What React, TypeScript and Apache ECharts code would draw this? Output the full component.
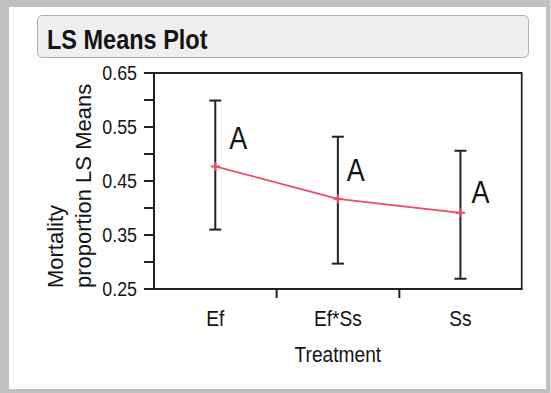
import React, { useEffect, useRef } from 'react';
import * as echarts from 'echarts';

// ---- data ----
const categories = ['Ef', 'Ef*Ss', 'Ss'];
const lsMeans = [0.477, 0.417, 0.391];
const lowerLimits = [0.36, 0.297, 0.269];
const upperLimits = [0.599, 0.532, 0.506];
const groupLetters = ['A', 'A', 'A'];
const yMin = 0.25;
const yMax = 0.65;
const yStep = 0.05;
const xBoundaryTicks = [1, 2];
const titleText = 'LS Means Plot';
const xName = 'Treatment';
const yNameLines = ['Mortality', 'proportion LS Means'];

// ---- layout / style ----
// The reference uses a narrow sans face; emulate it by drawing the chart wider
// and compressing it horizontally with CSS.
const PAGE_W = 551;
const PAGE_H = 393;
const SQUEEZE = 0.87;
const CHART_W = PAGE_W / SQUEEZE;
const X = (px: number) => px / SQUEEZE; // page px -> chart px (horizontal)

const SANS = '"Liberation Sans", Arial, sans-serif';
const INK = '#141414';
const AXIS = '#222222';
const MEAN_COLOR = '#f04868';
const letterOffsets = [
  [X(23), -28],
  [X(18), -28],
  [X(20), -21],
];

export default function App() {
  const ref = useRef<HTMLDivElement>(null);

  useEffect(() => {
    if (!ref.current) return;
    document.body.style.margin = '0';
    document.body.style.overflow = 'hidden';
    const chart = echarts.init(ref.current, undefined, { renderer: 'svg' });

    const errorData = categories.map((_, i) => [i, lowerLimits[i], upperLimits[i]]);
    const meanData = lsMeans.map((v, i) => ({
      value: v,
      label: {
        show: true,
        formatter: groupLetters[i],
        position: 'inside',
        offset: letterOffsets[i],
      },
    }));

    const vLine = 2 / SQUEEZE;

    const option: any = {
      animation: false,
      backgroundColor: '#c0c0c0',
      graphic: [
        {
          type: 'rect',
          z: -100,
          shape: { x: X(9), y: 7, width: X(537), height: 382 },
          style: { fill: '#ffffff' },
        },
        {
          type: 'rect',
          z: -90,
          shape: { x: X(37.5), y: 15.5, width: X(491), height: 42, r: 5 },
          style: { fill: '#efefef', stroke: '#a8a8a8', lineWidth: 1 },
        },
        {
          type: 'text',
          x: X(47),
          y: 39.5,
          style: {
            text: titleText,
            font: `bold 27px ${SANS}`,
            fill: INK,
            textAlign: 'left',
            textVerticalAlign: 'middle',
          },
        },
        {
          type: 'text',
          x: X(55.7),
          y: 288,
          rotation: Math.PI / 2,
          scaleY: 1 / SQUEEZE,
          style: {
            text: yNameLines[0],
            font: `22px ${SANS}`,
            fill: INK,
            textAlign: 'left',
            textVerticalAlign: 'middle',
          },
        },
        {
          type: 'text',
          x: X(83.1),
          y: 288,
          rotation: Math.PI / 2,
          scaleY: 1 / SQUEEZE,
          style: {
            text: yNameLines[1],
            font: `22px ${SANS}`,
            fill: INK,
            textAlign: 'left',
            textVerticalAlign: 'middle',
          },
        },
      ],
      grid: {
        left: X(154),
        right: X(29),
        top: 73,
        bottom: 104,
        show: true,
        borderColor: AXIS,
        borderWidth: 2,
        backgroundColor: 'transparent',
      },
      xAxis: [
        {
          type: 'category',
          data: categories,
          boundaryGap: true,
          axisLine: { lineStyle: { color: AXIS, width: 2 } },
          axisTick: { show: false },
          axisLabel: { color: INK, fontFamily: SANS, fontSize: 22, margin: 18 },
          name: xName,
          nameLocation: 'middle',
          nameGap: 54,
          nameTextStyle: { color: INK, fontFamily: SANS, fontSize: 22 },
          splitLine: { show: false },
        },
        {
          type: 'value',
          min: 0,
          max: 3,
          position: 'bottom',
          axisLine: { show: false },
          splitLine: { show: false },
          axisLabel: { show: false },
          axisTick: {
            show: true,
            customValues: xBoundaryTicks,
            length: 9,
            lineStyle: { color: AXIS, width: vLine },
          },
        },
      ],
      yAxis: {
        type: 'value',
        min: yMin,
        max: yMax,
        interval: yStep,
        axisLine: { show: true, lineStyle: { color: AXIS, width: vLine } },
        axisTick: { show: true, length: X(10), lineStyle: { color: AXIS, width: 2 } },
        splitLine: { show: false },
        axisLabel: {
          color: INK,
          fontFamily: SANS,
          fontSize: 20.5,
          margin: X(17),
          formatter: (v: number) => (Math.round(v * 100) % 10 === 5 ? v.toFixed(2) : ''),
        },
      },
      series: [
        {
          type: 'custom',
          xAxisIndex: 0,
          yAxisIndex: 0,
          data: errorData,
          renderItem: (params: any, api: any) => {
            const x = api.value(0);
            const lo = api.coord([x, api.value(1)]);
            const hi = api.coord([x, api.value(2)]);
            const half = X(6);
            const vStyle = { stroke: AXIS, lineWidth: vLine, fill: 'none' };
            const hStyle = { stroke: AXIS, lineWidth: 2, fill: 'none' };
            return {
              type: 'group',
              children: [
                { type: 'line', shape: { x1: lo[0], y1: lo[1], x2: hi[0], y2: hi[1] }, style: vStyle },
                { type: 'line', shape: { x1: hi[0] - half, y1: hi[1], x2: hi[0] + half, y2: hi[1] }, style: hStyle },
                { type: 'line', shape: { x1: lo[0] - half, y1: lo[1], x2: lo[0] + half, y2: lo[1] }, style: hStyle },
              ],
            };
          },
          z: 2,
        },
        {
          type: 'line',
          xAxisIndex: 0,
          yAxisIndex: 0,
          data: meanData,
          symbol: 'path://M3.1,0H4.9V3.1H8V4.9H4.9V8H3.1V4.9H0V3.1H3.1Z',
          symbolSize: [X(9), 9],
          showSymbol: true,
          itemStyle: { color: MEAN_COLOR },
          lineStyle: { color: MEAN_COLOR, width: 1.8 },
          label: {
            color: INK,
            fontFamily: SANS,
            fontSize: 31,
            align: 'center',
            verticalAlign: 'middle',
          },
          z: 3,
        },
      ],
    };

    chart.setOption(option);
    return () => chart.dispose();
  }, []);

  return (
    <div
      ref={ref}
      style={{
        position: 'absolute',
        left: 0,
        top: 0,
        width: CHART_W,
        height: PAGE_H,
        transform: `scaleX(${SQUEEZE})`,
        transformOrigin: '0 0',
      }}
    />
  );
}
